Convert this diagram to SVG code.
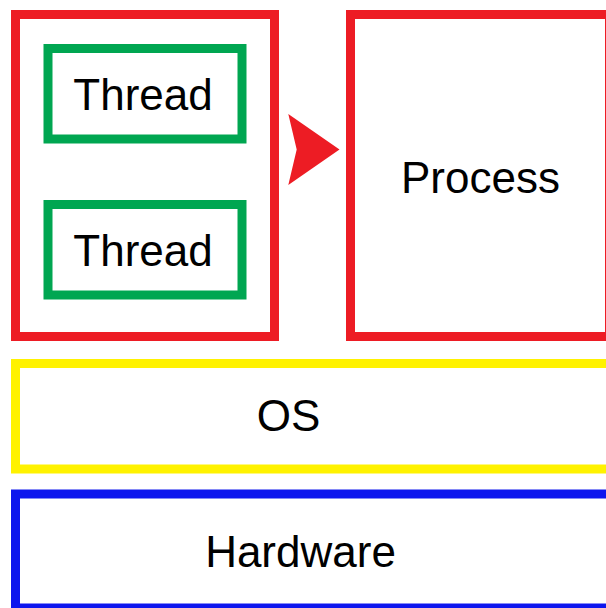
<svg xmlns="http://www.w3.org/2000/svg" width="606" height="608" viewBox="0 0 606 608">
<style>
.box{fill:#fff;stroke-width:9}
.red{stroke:#ed1c24}
.green{stroke:#00a651}
.yellow{stroke:#fff200}
.blue{stroke:#0d16ee}
.lbl{font-family:"Liberation Sans",Arial,sans-serif;font-size:44px;fill:#000;text-anchor:middle}
</style>
<rect x="0" y="0" width="606" height="608" fill="#fff"/>
<g id="thread-container">
<rect class="box red" x="15.5" y="14.5" width="259" height="322"/>
</g>
<g id="thread1">
<rect class="box green" x="48" y="48.5" width="194" height="90.5"/>
<text class="lbl" x="143" y="109.5">Thread</text>
</g>
<g id="thread2">
<rect class="box green" x="48" y="204.5" width="194" height="90.5"/>
<text class="lbl" x="143" y="265.5">Thread</text>
</g>
<g id="process">
<rect class="box red" x="350.5" y="14.5" width="259" height="322"/>
<text class="lbl" x="480.5" y="193">Process</text>
</g>
<g id="os">
<rect class="box yellow" x="15.5" y="363.5" width="600" height="105.5"/>
<text class="lbl" x="288.5" y="431">OS</text>
</g>
<g id="hardware">
<rect class="box blue" x="15.5" y="494" width="600" height="114"/>
<text class="lbl" x="300.5" y="567">Hardware</text>
</g>
<g id="connectors">
<path d="M288.3,114 L339.5,149.5 L288.3,185 L296.7,149.5 Z" fill="#ed1c24"/>
</g>
</svg>
